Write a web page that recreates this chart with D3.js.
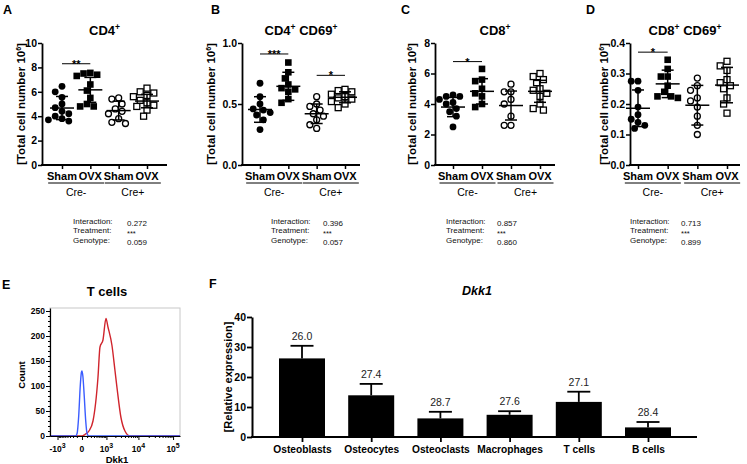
<!DOCTYPE html>
<html><head><meta charset="utf-8">
<script src="https://cdn.jsdelivr.net/npm/d3@7"></script>
<style>body{margin:0;background:#fff}svg{display:block;font-family:Arial,"Liberation Sans",sans-serif}</style>
</head><body>
<svg id="c" width="747" height="464"></svg>
<script>
// ---------- DATA ----------
const groupLabels = ["Sham","OVX","Sham","OVX"];
const genotypes = ["Cre-","Cre+"];
const panelLetters = ["A","B","C","D"];
const panelTitles = ["CD4+","CD4+ CD69+","CD8+","CD8+ CD69+"];
const yDomains = [[0,10],[0,1],[0,8],[0,0.4]];
const yTicks = [[0,2,4,6,8,10],[0,0.5,1.0],[0,2,4,6,8],[0,0.1,0.2,0.3,0.4]];
const yFormats = ["d",".1f","d",".1f"];

const cd4Values = [
  [6.45,6.0,5.55,5.0,4.7,4.4,4.2,4.0,3.8,3.6,3.7],
  [7.55,7.5,7.4,7.3,6.6,6.1,5.5,5.0,4.8,4.8],
  [5.5,5.4,5.0,4.6,4.4,4.2,3.8,3.5,3.4],
  [6.3,6.0,5.9,5.7,5.6,5.3,5.1,4.9,4.8,4.5,4.0]
];
const cd4Mean = [4.67,6.16,4.46,5.24];
const cd4SD = [0.95,1.02,0.77,0.55];

const cd4cd69Values = [
  [0.67,0.56,0.50,0.46,0.45,0.43,0.41,0.37,0.29],
  [0.84,0.76,0.71,0.66,0.63,0.62,0.60,0.54,0.51],
  [0.56,0.50,0.48,0.45,0.42,0.40,0.37,0.33,0.30],
  [0.62,0.61,0.60,0.58,0.56,0.55,0.54,0.52,0.50,0.47]
];
const cd4cd69Mean = [0.455,0.645,0.42,0.555];
const cd4cd69SD = [0.105,0.115,0.08,0.045];

const cd8Values = [
  [4.6,4.5,4.5,4.3,4.1,4.0,3.7,3.5,3.2,2.5],
  [6.3,5.6,5.5,5.0,4.7,4.5,4.0,3.8],
  [5.3,4.8,4.8,4.3,4.0,3.2,2.6,2.6],
  [6.0,5.8,5.6,5.4,5.0,4.9,4.7,4.5,4.0,3.7,3.6]
];
const cd8Mean = [3.8,4.83,3.9,4.83];
const cd8SD = [0.63,0.83,0.95,0.72];

const cd8cd69Values = [
  [0.275,0.275,0.245,0.19,0.165,0.15,0.14,0.13,0.12],
  [0.345,0.315,0.29,0.29,0.26,0.24,0.225,0.225,0.22],
  [0.285,0.26,0.245,0.22,0.21,0.19,0.16,0.13,0.10],
  [0.34,0.325,0.31,0.28,0.27,0.26,0.25,0.22,0.20,0.17]
];
const cd8cd69Mean = [0.186,0.266,0.196,0.262];
const cd8cd69SD = [0.06,0.045,0.065,0.058];

// significance: [groupA, groupB, stars, height]
const sigA = [[0,1,"**",8.3]];
const sigB = [[0,1,"***",0.91],[2,3,"*",0.735]];
const sigC = [[0,1,"*",6.78]];
const sigD = [[0,1,"*",0.37]];

const statNames = ["Interaction:","Treatment:","Genotype:"];
const interactionP = ["0.272","0.396","0.857","0.713"];
const treatmentP = ["***","***","***","***"];
const genotypeP = ["0.059","0.057","0.860","0.899"];

// Panel E: flow histogram (Dkk1 value, count)
const blueCurve = [[-1800,0],[-400,0],[-130,0],[-95,5],[-60,40],[-30,100],[-10,127],[0,130],[15,120],[40,80],[70,30],[100,5],[140,0],[158000,0]];
const redCurve = [[-1800,0],[0,0],[54,3],[146,10],[266,30],[466,117],[568,178],[745,192],[962,235],[1133,218],[1550,181],[1942,131],[2250,97],[3000,37],[3980,10],[5630,0],[158000,0]];
const eYTicks = [0,50,100,150,200,250];
const eXTicks = [-1000,0,1000,10000,100000];
const eXTickLabels = [["-10","3"],["0",""],["10","3"],["10","4"],["10","5"]];

// Panel F: Dkk1 relative expression
const cellTypes = ["Osteoblasts","Osteocytes","Osteoclasts","Macrophages","T cells","B cells"];
const dkk1Mean = [26.2,13.9,6.2,7.4,11.7,3.2];
const dkk1Err = [4.2,3.8,2.2,1.2,3.4,1.8];
const ctValues = ["26.0","27.4","28.7","27.6","27.1","28.4"];
const fYTicks = [0,10,20,30,40];

// ---------- DRAW ----------
const svg = d3.select("#c");

function rich(sel, str, supSize, dy) {
  const parts = str.split(/(\+)/).filter(s => s.length);
  let raised = false;
  parts.forEach(p => {
    if (p === "+") {
      sel.append("tspan").attr("dy", raised ? 0 : -dy).attr("font-size", supSize).text("+");
      raised = true;
    } else {
      sel.append("tspan").attr("dy", raised ? dy : 0).text(p);
      raised = false;
    }
  });
}

const scatterSets = [
  {vals: cd4Values, mean: cd4Mean, sd: cd4SD, sig: sigA},
  {vals: cd4cd69Values, mean: cd4cd69Mean, sd: cd4cd69SD, sig: sigB},
  {vals: cd8Values, mean: cd8Mean, sd: cd8SD, sig: sigC},
  {vals: cd8cd69Values, mean: cd8cd69Mean, sd: cd8cd69SD, sig: sigD}
];

const axX0 = [42, 242, 435, 630];
const axX1 = [167, 360, 555, 740];
const padL = [20, 18, 18, 8];
const padR = [20, 15, 15, 13];
const letterX = [3, 211, 401, 586];
const ylabOff = [17, 27, 19, 22];
const statLX = [73, 271, 446, 630];
const statVX = [127, 323, 497, 681];
const yTop = 43, yBot = 165;

function swarm(vals, y, cx, diam) {
  const placed = [];
  return vals.map(v => {
    const py = y(v);
    const cands = [0];
    for (let k = 1; k < 10; k++) cands.push(-k * 3.4, k * 3.4);
    let off = cands[cands.length - 1];
    for (const c of cands) {
      if (placed.every(p => Math.hypot(p[0] - c, p[1] - py) >= diam)) { off = c; break; }
    }
    placed.push([off, py]);
    return [cx + off, py];
  });
}

scatterSets.forEach((set, i) => {
  const g = svg.append("g");
  const x0 = axX0[i], x1 = axX1[i];
  const y = d3.scaleLinear().domain(yDomains[i]).range([yBot, yTop]);
  const x = d3.scalePoint().domain(d3.range(4)).range([x0 + padL[i], x1 - padR[i]]);

  g.append("text").attr("x", letterX[i]).attr("y", 14).attr("font-size", 12.5).attr("font-weight", "bold").text(panelLetters[i]);
  const tt = g.append("text").attr("x", (x0 + x1) / 2).attr("y", 35).attr("text-anchor", "middle")
    .attr("font-size", 13).attr("font-weight", "bold");
  rich(tt, panelTitles[i], 8.5, 5);

  const ya = g.append("g").attr("transform", `translate(${x0},0)`)
    .call(d3.axisLeft(y).tickValues(yTicks[i]).tickFormat(d3.format(yFormats[i])).tickSize(4).tickSizeOuter(0).tickPadding(1));
  ya.select(".domain").attr("stroke-width", 1.8);
  ya.selectAll(".tick line").attr("stroke-width", 1.5);
  ya.selectAll(".tick text").attr("font-size", 10.5).attr("font-weight", "bold").attr("fill", "#000").attr("font-family", null);

  g.append("line").attr("x1", x0 - 0.9).attr("x2", x1).attr("y1", yBot).attr("y2", yBot).attr("stroke", "#000").attr("stroke-width", 1.8);
  const xa = g.append("g").attr("transform", `translate(0,${yBot})`)
    .call(d3.axisBottom(x).tickSize(4).tickFormat(""));
  xa.select(".domain").remove();
  xa.selectAll(".tick line").attr("stroke-width", 1.5);

  groupLabels.forEach((lab, j) => {
    g.append("text").attr("x", x(j)).attr("y", 180).attr("text-anchor", "middle")
      .attr("font-size", 11).attr("font-weight", "bold").text(lab);
  });
  genotypes.forEach((gen, k) => {
    const mid = (x(2 * k) + x(2 * k + 1)) / 2;
    g.append("line").attr("x1", mid - 28).attr("x2", mid + 28).attr("y1", 183).attr("y2", 183).attr("stroke", "#000").attr("stroke-width", 1);
    g.append("text").attr("x", mid).attr("y", 196).attr("text-anchor", "middle").attr("font-size", 10.5).text(gen);
  });

  const yl = g.append("text").attr("transform", `translate(${x0 - ylabOff[i]},${(yTop + yBot) / 2}) rotate(-90)`)
    .attr("text-anchor", "middle").attr("font-size", 11.5).attr("font-weight", "bold");
  yl.append("tspan").text("[Total cell number 10");
  yl.append("tspan").attr("dy", -4.5).attr("font-size", 7).text("6");
  yl.append("tspan").attr("dy", 4.5).text("]");

  set.vals.forEach((vals, j) => {
    const pts = swarm(vals, y, x(j), 6.6);
    const filled = j < 2;
    const circle = j % 2 === 0;
    pts.forEach(p => {
      if (circle) {
        g.append("circle").attr("cx", p[0]).attr("cy", p[1]).attr("r", filled ? 3.4 : 3.0)
          .attr("fill", filled ? "#000" : "#fff").attr("stroke", "#000").attr("stroke-width", filled ? 0 : 1.3);
      } else {
        const s = filled ? 6.6 : 6.0;
        g.append("rect").attr("x", p[0] - s / 2).attr("y", p[1] - s / 2).attr("width", s).attr("height", s)
          .attr("fill", filled ? "#000" : "#fff").attr("stroke", "#000").attr("stroke-width", filled ? 0 : 1.3)
          .attr("fill-opacity", filled ? 1 : 0.6);
      }
    });
    const m = set.mean[j], sd = set.sd[j], cx = x(j);
    const eg = g.append("g").attr("stroke", "#000").attr("stroke-width", 1.5);
    eg.append("line").attr("x1", cx - 12).attr("x2", cx + 12).attr("y1", y(m)).attr("y2", y(m));
    eg.append("line").attr("x1", cx).attr("x2", cx).attr("y1", y(m - sd)).attr("y2", y(m + sd));
    eg.append("line").attr("x1", cx - 6).attr("x2", cx + 6).attr("y1", y(m + sd)).attr("y2", y(m + sd));
    eg.append("line").attr("x1", cx - 6).attr("x2", cx + 6).attr("y1", y(m - sd)).attr("y2", y(m - sd));
  });

  set.sig.forEach(s => {
    const yy = y(s[3]);
    g.append("line").attr("x1", x(s[0])).attr("x2", x(s[1])).attr("y1", yy).attr("y2", yy).attr("stroke", "#000").attr("stroke-width", 1);
    g.append("text").attr("x", (x(s[0]) + x(s[1])) / 2).attr("y", yy + 4).attr("text-anchor", "middle")
      .attr("font-size", 11).attr("font-weight", "bold").text(s[2]);
  });

  const vals = [interactionP[i], treatmentP[i], genotypeP[i]];
  statNames.forEach((n, r) => {
    g.append("text").attr("x", statLX[i]).attr("y", 223.5 + r * 9.5).attr("font-size", 8).attr("fill", "#111").text(n);
    if (vals[r] === "***") {
      g.append("text").attr("x", statVX[i]).attr("y", 235.5).attr("font-size", 7.5).attr("fill", "#111").text(vals[r]);
    } else {
      g.append("text").attr("x", statVX[i]).attr("y", 225.5 + r * 9.5).attr("font-size", 8).attr("fill", "#111").text(vals[r]);
    }
  });
});

// ---------- Panel E ----------
{
  const g = svg.append("g");
  const ex = d3.scaleSymlog().constant(250).domain([-1800, 158000]).range([50, 180]);
  const ey = d3.scaleLinear().domain([0, 256]).range([436, 308]);
  g.append("text").attr("x", 2).attr("y", 289).attr("font-size", 12.5).attr("font-weight", "bold").text("E");
  g.append("text").attr("x", 107).attr("y", 296).attr("text-anchor", "middle").attr("font-size", 13).attr("font-weight", "bold").text("T cells");
  g.append("rect").attr("x", ex.range()[0]).attr("y", ey.range()[1]).attr("width", ex.range()[1] - ex.range()[0])
    .attr("height", ey.range()[0] - ey.range()[1]).attr("fill", "none").attr("stroke", "#c8c8c8").attr("stroke-width", 1);
  const line = d3.line().x(d => ex(d[0])).y(d => ey(d[1])).curve(d3.curveMonotoneX);
  g.append("path").attr("d", line(redCurve)).attr("fill", "none").attr("stroke", "#d0242c").attr("stroke-width", 1.4);
  g.append("path").attr("d", line(blueCurve)).attr("fill", "none").attr("stroke", "#3a5cff").attr("stroke-width", 1.4);
  const ya = g.append("g").attr("transform", `translate(${ex.range()[0]},0)`)
    .call(d3.axisLeft(ey).tickValues(eYTicks).tickSize(4).tickSizeOuter(0).tickPadding(1));
  ya.selectAll(".tick text").attr("font-size", 8.5).attr("font-weight", "bold").attr("fill", "#000").attr("font-family", null);
  ya.select(".domain").attr("stroke-width", 1.2);
  const yMinor = d3.range(0, 257, 10).filter(v => !eYTicks.includes(v));
  g.append("g").attr("transform", `translate(${ex.range()[0]},0)`)
    .call(d3.axisLeft(ey).tickValues(yMinor).tickSize(2).tickFormat("")).select(".domain").remove();
  const xa = g.append("g").attr("transform", `translate(0,${ey.range()[0]})`)
    .call(d3.axisBottom(ex).tickValues(eXTicks).tickSize(4).tickSizeOuter(0).tickFormat(""));
  xa.select(".domain").attr("stroke-width", 1.2);
  const xMinor = [];
  [100, 1000, 10000].forEach(b => d3.range(2, 10).forEach(k => xMinor.push(k * b)));
  d3.range(2, 10).forEach(k => xMinor.push(-k * 100));
  xMinor.push(-100, 100);
  g.append("g").attr("transform", `translate(0,${ey.range()[0]})`)
    .call(d3.axisBottom(ex).tickValues(xMinor.filter(v => v > -1800 && v < 158000)).tickSize(2).tickFormat("")).select(".domain").remove();
  eXTicks.forEach((v, k) => {
    const t = g.append("text").attr("x", ex(v)).attr("y", 452).attr("text-anchor", "middle").attr("font-size", 8.5).attr("font-weight", "bold");
    t.append("tspan").text(eXTickLabels[k][0]);
    if (eXTickLabels[k][1]) t.append("tspan").attr("dy", -4).attr("font-size", 7).text(eXTickLabels[k][1]);
  });
  g.append("text").attr("x", 117).attr("y", 463).attr("text-anchor", "middle").attr("font-size", 9.5).attr("font-weight", "bold").text("Dkk1");
  g.append("text").attr("transform", `translate(25,375) rotate(-90)`).attr("text-anchor", "middle").attr("font-size", 9.5).attr("font-weight", "bold").text("Count");
}

// ---------- Panel F ----------
{
  const g = svg.append("g");
  const fx0 = 252, fx1 = 697;
  const fy = d3.scaleLinear().domain([0, 40]).range([437, 317]);
  const fx = d3.scalePoint().domain(cellTypes).range([fx0 + 50, fx1 - 49]);
  const bw = 46;
  g.append("text").attr("x", 209).attr("y", 288).attr("font-size", 12.5).attr("font-weight", "bold").text("F");
  g.append("text").attr("x", 477).attr("y", 295).attr("text-anchor", "middle").attr("font-size", 12.5)
    .attr("font-weight", "bold").attr("font-style", "italic").text("Dkk1");
  cellTypes.forEach((c, i) => {
    const cx = fx(c), top = fy(dkk1Mean[i] + dkk1Err[i]);
    g.append("line").attr("x1", cx).attr("x2", cx).attr("y1", fy(dkk1Mean[i])).attr("y2", top).attr("stroke", "#000").attr("stroke-width", 1.8);
    g.append("line").attr("x1", cx - 11.5).attr("x2", cx + 11.5).attr("y1", top).attr("y2", top).attr("stroke", "#000").attr("stroke-width", 1.8);
    g.append("text").attr("x", cx).attr("y", top - 6).attr("text-anchor", "middle").attr("font-size", 10.5).attr("fill", "#222").text(ctValues[i]);
  });
  g.selectAll("rect.bar").data(cellTypes).join("rect").attr("class", "bar")
    .attr("x", c => fx(c) - bw / 2).attr("width", bw)
    .attr("y", (c, i) => fy(dkk1Mean[i])).attr("height", (c, i) => fy(0) - fy(dkk1Mean[i])).attr("fill", "#000");
  const ya = g.append("g").attr("transform", `translate(${fx0},0)`)
    .call(d3.axisLeft(fy).tickValues(fYTicks).tickSize(5).tickSizeOuter(0).tickPadding(1));
  ya.select(".domain").attr("stroke-width", 2);
  ya.selectAll(".tick line").attr("stroke-width", 1.8);
  ya.selectAll(".tick text").attr("font-size", 10.5).attr("font-weight", "bold").attr("fill", "#000").attr("font-family", null);
  g.append("line").attr("x1", fx0 - 1).attr("x2", fx1).attr("y1", fy(0)).attr("y2", fy(0)).attr("stroke", "#000").attr("stroke-width", 2);
  const xa = g.append("g").attr("transform", `translate(0,${fy(0)})`)
    .call(d3.axisBottom(fx).tickSize(5).tickPadding(4));
  xa.select(".domain").remove();
  xa.selectAll(".tick line").attr("stroke-width", 1.8);
  xa.selectAll(".tick text").attr("font-size", 10.2).attr("font-weight", "bold").attr("fill", "#000").attr("font-family", null);
  g.append("text").attr("transform", `translate(232,377) rotate(-90)`).attr("text-anchor", "middle")
    .attr("font-size", 11).attr("font-weight", "bold").text("[Relative expression]");
}
</script>
</body></html>
